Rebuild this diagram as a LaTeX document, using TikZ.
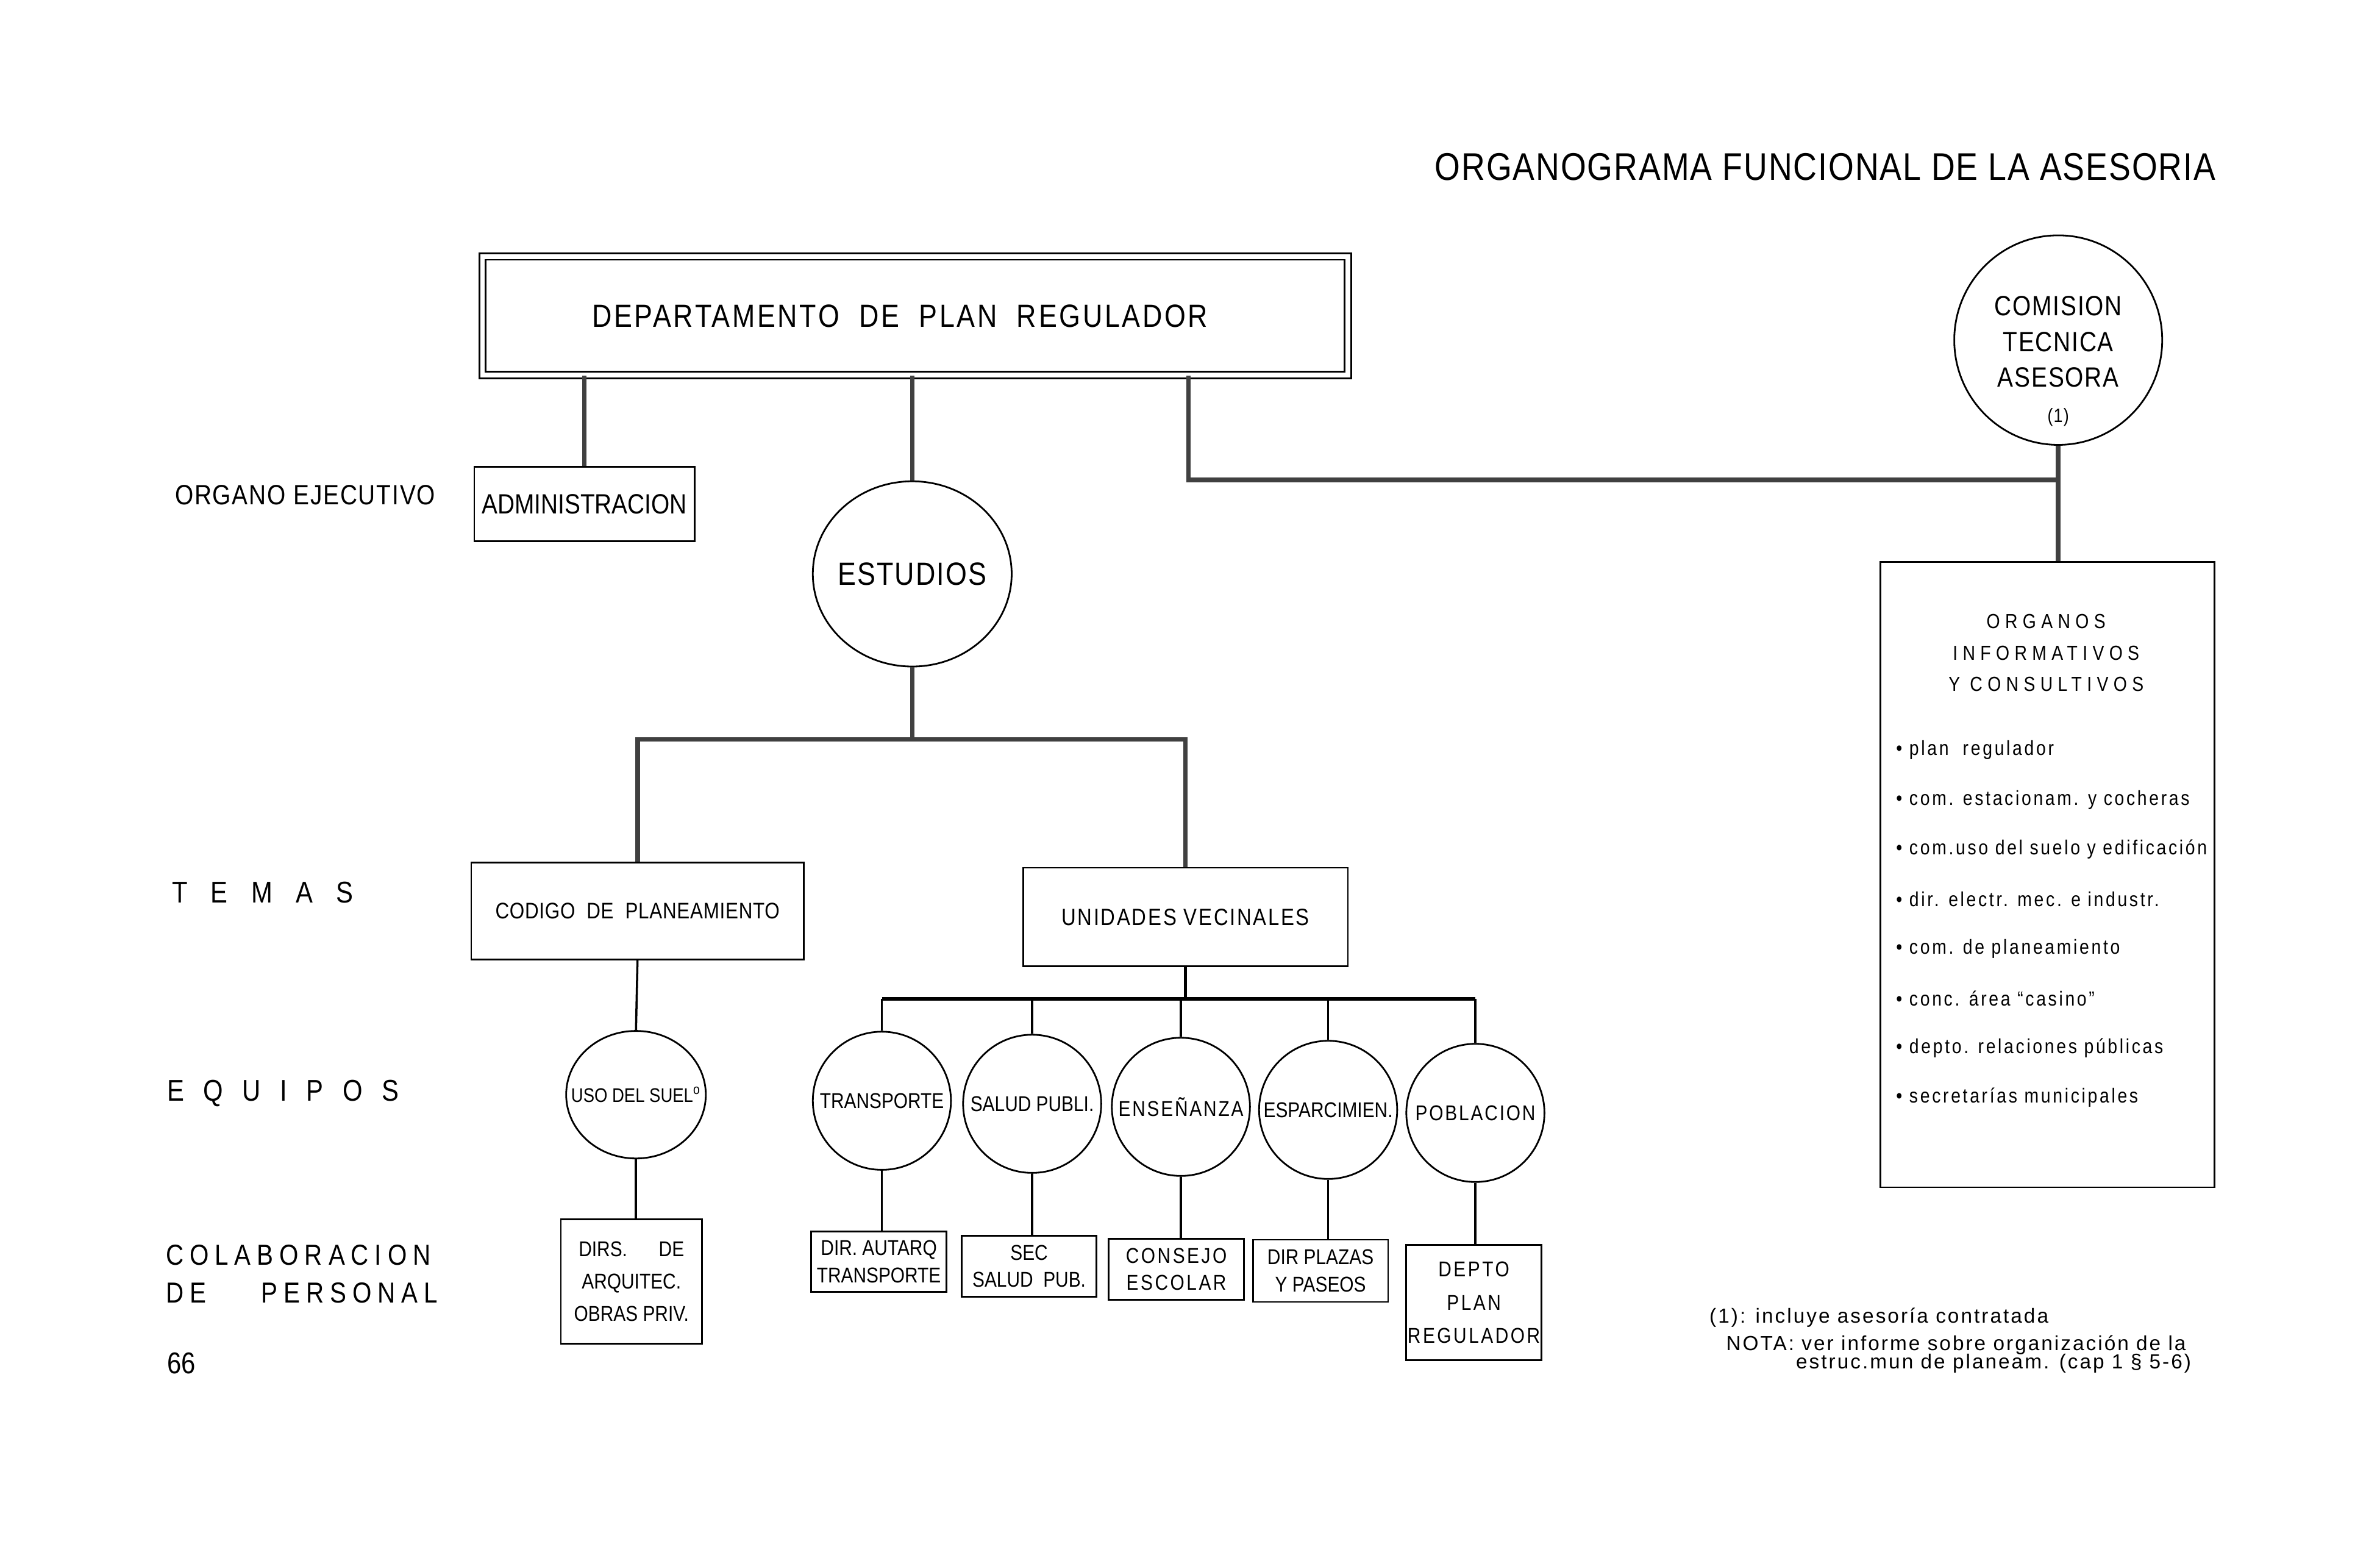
\documentclass[tikz,border=0pt]{standalone}
\usepackage{fontspec}
\setmainfont{Liberation Sans}[FakeStretch=0.85]
\newfontfamily\notefont{Liberation Sans}[LetterSpace=9]
\usetikzlibrary{positioning,shapes.geometric}

\newcommand{\upx}{0.249mm}
\newcommand{\fsz}[2]{\fontsize{#1}{#2}\selectfont}
\newcommand{\spc}[1]{\addfontfeature{LetterSpace=#1}}
\newcommand{\inbub}[1]{\makebox[0pt]{#1}}

\tikzstyle{block} = [draw, rectangle, line width=0.8pt, inner sep=0pt, align=center]
\tikzstyle{bubble} = [draw, ellipse, line width=0.8pt, inner sep=0pt, align=center]
\tikzstyle{staff} = [block, minimum width=89*\upx, minimum height=40*\upx, font=\fsz{10}{12.7}]
\tikzstyle{equipo} = [bubble, minimum width=91*\upx, minimum height=91*\upx, font=\fsz{10}{12}]
\tikzstyle{trunk} = [line width=2.2pt, draw=black!75]
\tikzstyle{twig} = [line width=1pt]
\tikzstyle{rowlabel} = [anchor=west, inner sep=0pt, align=left]
\tikzstyle{item} = [anchor=west, inner sep=0pt, font=\fsz{9.5}{11}\spc{11}]
\tikzstyle{note} = [anchor=west, inner sep=0pt, font=\notefont\fsz{9.5}{11}]

\begin{document}
\begin{tikzpicture}[x=\upx, y=-\upx]
    \fill[white] (0,0) rectangle (1568,1024);
    \useasboundingbox (0,0) rectangle (1568,1024);

    \node [anchor=west, inner sep=0pt, font=\fsz{18}{20}\spc{3}] (title) at (945,110) {ORGANOGRAMA FUNCIONAL DE LA ASESORIA};

    % cabeza
    \node [block, double, double distance=3*\upx, minimum width=570*\upx, minimum height=78*\upx, font=\fsz{15}{18}\spc{7}] (dept) at (603,208) {DEPARTAMENTO\ \ DE\ \ PLAN\ \ REGULADOR\hspace*{5mm}};
    \node [block, minimum width=145*\upx, minimum height=49*\upx, font=\fsz{13}{15}] (admin) at (385,332) {ADMINISTRACION};
    \node [bubble, minimum width=131*\upx, minimum height=122*\upx, font=\fsz{15}{18}\spc{4}] (estudios) at (601,378) {\inbub{ESTUDIOS}};
    \node [bubble, minimum width=137*\upx, minimum height=138*\upx] (comision) at (1356,224) {};
    \node [align=center, inner sep=0pt, font=\fsz{13}{16.6}\spc{4}] (comisiontxt) at (1356,238) {COMISION\\TECNICA\\ASESORA\\{\fsz{9}{11}(1)}};
    \node [block, minimum width=220*\upx, minimum height=412*\upx] (organos) at (1349,576) {};
    \node [align=center, inner sep=0pt, font=\fsz{9.5}{14.6}\spc{25}] (organostit) at (1348,430) {ORGANOS\\INFORMATIVOS\\Y CONSULTIVOS};
    \foreach \t [count=\i] in {plan\ \ regulador, com. estacionam. y cocheras, com.uso del suelo y edificación, dir. electr. mec. e industr., com. de planeamiento, conc. área ``casino'', depto. relaciones públicas, secretarías municipales}
        \node [item] (item\i) at (1249,461.3+32.7*\i) {\textbullet\ \t};

    % temas
    \node [block, minimum width=219*\upx, minimum height=64*\upx, font=\fsz{10.5}{12}\spc{2}] (codigo) at (420,600) {CODIGO\ \ DE\ \ PLANEAMIENTO};
    \node [block, minimum width=214*\upx, minimum height=65*\upx, font=\fsz{11}{13}\spc{7}] (unidades) at (781,604) {UNIDADES VECINALES};

    % equipos
    \node [equipo, minimum width=92*\upx, minimum height=84*\upx, font=\fsz{9.2}{11}] (uso) at (419,721) {\inbub{USO DEL SUEL\textsuperscript{o}}};
    \node [equipo] (transp) at (581,725) {\inbub{TRANSPORTE}};
    \node [equipo] (salud) at (680,727) {\inbub{SALUD PUBLI.}};
    \node [equipo, font=\fsz{10}{12}\spc{8}] (ensen) at (778,729) {\inbub{ENSEÑANZA}};
    \node [equipo] (espar) at (875,731) {\inbub{ESPARCIMIEN.}};
    \node [equipo, font=\fsz{10}{12}\spc{8}] (pobl) at (972,733) {\inbub{POBLACION}};

    % colaboracion
    \node [staff, minimum width=93*\upx, minimum height=82*\upx, font=\fsz{10}{15.2}] (dirs) at (416,844) {DIRS.\quad\ \ DE\\ARQUITEC.\\OBRAS PRIV.};
    \node [staff] (autarq) at (579,831) {DIR. AUTARQ\\TRANSPORTE};
    \node [staff] (sec) at (678,834) {SEC\\SALUD\ \ PUB.};
    \node [staff, font=\fsz{10}{12.7}\spc{10}] (consejo) at (775,836) {CONSEJO\\ESCOLAR};
    \node [staff, minimum height=41*\upx] (plazas) at (870,837) {DIR PLAZAS\\Y PASEOS};
    \node [staff, minimum height=76*\upx, font=\fsz{10}{15.5}\spc{10}] (depto) at (971,858) {DEPTO\\PLAN\\REGULADOR};

    % niveles
    \node [rowlabel, font=\fsz{13}{15}\spc{4}] (lblorg) at (115,326) {ORGANO EJECUTIVO};
    \node [rowlabel, font=\fsz{14}{16}\spc{78}] (lbltemas) at (113,588) {TEMAS};
    \node [rowlabel, font=\fsz{14}{16}\spc{64}] (lblequipos) at (110,720) {EQUIPOS};
    \node [rowlabel, font=\fsz{13.5}{17.6}\spc{21}] (lblcolab) at (109,839) {COLABORACION\\\makebox[44.6mm][l]{DE\hfill PERSONAL}};
    \node [rowlabel, font=\fsz{14}{16}] (page) at (110,898) {66};

    \node [note] (note1) at (1126,868) {(1): incluye asesoría contratada};
    \node [note] (note2) at (1137,886) {NOTA: ver informe sobre organización de la};
    \node [note] (note3) at (1183,898) {estruc.mun de planeam. (cap 1 § 5-6)};

    % lineas gruesas
    \coordinate (bend) at (783,316);
    \coordinate (fork) at (601,487);
    \draw [trunk] (dept.south -| admin.north) -- (admin.north);
    \draw [trunk] (dept.south -| estudios.north) -- (estudios.north);
    \draw [trunk] (dept.south -| bend) -- (bend) -- (bend -| comision.south);
    \draw [trunk] (comision.south) -- (comision.south |- organos.north);
    \draw [trunk] (estudios.south) -- (fork);
    \draw [trunk] (codigo.north) |- (fork) -| (unidades.north);

    % lineas finas
    \coordinate (bar) at (781,658);
    \draw [twig] (codigo.south) -- (uso.north);
    \draw [twig] (uso.south) -- (uso.south |- dirs.north);
    \draw [twig, line width=1.6pt] (unidades.south) -- (bar);
    \draw [twig, line width=1.6pt] (transp.north |- bar) -- (pobl.north |- bar);
    \foreach \a/\b in {transp/autarq, salud/sec, ensen/consejo, espar/plazas, pobl/depto} {
        \draw [twig] (\a.north) -- (\a.north |- bar);
        \draw [twig] (\a.south) -- (\a.south |- \b.north);
    }
\end{tikzpicture}
\end{document}
